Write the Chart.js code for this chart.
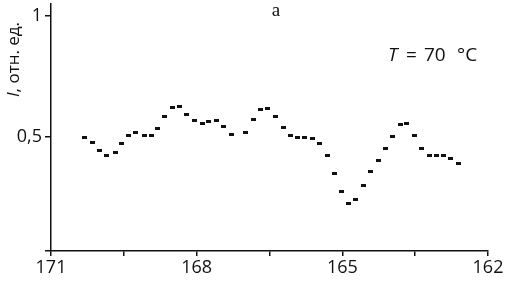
<!DOCTYPE html>
<html>
<head>
<meta charset="utf-8">
<script src="https://cdn.jsdelivr.net/npm/chart.js@4.4.1/dist/chart.umd.min.js"></script>
<style>
  html, body { margin: 0; padding: 0; background: #fff; }
  #wrap { width: 515px; height: 281px; position: relative; }
</style>
</head>
<body>
<div id="wrap"><canvas id="spectrum"></canvas></div>
<script>
// wavenumber-like x values (axis runs 171 -> 162)
var xs = [170.30, 170.15, 170.00, 169.85, 169.68, 169.54, 169.40, 169.25, 169.08, 168.94,
          168.81, 168.66, 168.50, 168.36, 168.20, 168.04, 167.89, 167.75, 167.60, 167.45,
          167.28, 166.99, 166.83, 166.68, 166.54, 166.37, 166.22, 166.07, 165.92, 165.77,
          165.62, 165.46, 165.31, 165.17, 165.01, 164.87, 164.72, 164.57, 164.41, 164.25,
          164.11, 163.96, 163.81, 163.68, 163.52, 163.37, 163.21, 163.07, 162.92, 162.77,
          162.60];
// intensity, rel. units
var intensity = [0.496, 0.477, 0.442, 0.422, 0.433, 0.471, 0.504, 0.516, 0.504, 0.504,
                 0.532, 0.583, 0.620, 0.623, 0.592, 0.566, 0.555, 0.561, 0.565, 0.543,
                 0.509, 0.517, 0.571, 0.610, 0.615, 0.584, 0.538, 0.506, 0.496, 0.495,
                 0.493, 0.471, 0.422, 0.349, 0.272, 0.225, 0.240, 0.298, 0.354, 0.401,
                 0.449, 0.502, 0.548, 0.554, 0.504, 0.452, 0.422, 0.422, 0.422, 0.409,
                 0.390];
var xTicks = [171, 169.5, 168, 166.5, 165, 163.5, 162];
var xLabels = ['171', '', '168', '', '165', '', '162'];
var yTicks = [0.028, 0.5, 1];
var yLabels = ['', '0,5', '1'];

var FONT = '"Open Sans", "Noto Sans", sans-serif';

// small flat black marker
var marker = document.createElement('canvas');
marker.width = 5; marker.height = 3;
var mctx = marker.getContext('2d');
mctx.fillStyle = '#111';
mctx.fillRect(0, 0, 5, 3);

var points = xs.map(function (x, i) { return { x: x, y: intensity[i] }; });

var annotations = {
  id: 'annotations',
  afterDraw: function (chart) {
    var ctx = chart.ctx;
    ctx.save();
    ctx.fillStyle = '#111';
    // panel letter
    ctx.font = '19px "Liberation Serif", serif';
    ctx.textAlign = 'center';
    ctx.textBaseline = 'alphabetic';
    ctx.fillText('a', 276, 16);
    // temperature note
    ctx.textAlign = 'left';
    ctx.font = 'italic 19px ' + FONT;
    ctx.fillText('T', 388, 61);
    ctx.font = '19px ' + FONT;
    ctx.fillText('=', 406, 61);
    ctx.fillText('70', 424, 61);
    ctx.fillText('\u00B0C', 457, 61);
    // y axis title, rotated
    ctx.translate(19, 97);
    ctx.rotate(-Math.PI / 2);
    ctx.font = 'italic 17px ' + FONT;
    ctx.fillText('I', 0, 0);
    var wi = ctx.measureText('I').width;
    ctx.font = '17px ' + FONT;
    ctx.fillText(', отн. ед.', wi, 0);
    ctx.restore();
  }
};

new Chart(document.getElementById('spectrum'), {
  type: 'scatter',
  data: {
    datasets: [{
      data: points,
      pointStyle: marker,
      pointRadius: 3,
      pointHoverRadius: 3,
      showLine: false
    }]
  },
  options: {
    responsive: true,
    maintainAspectRatio: false,
    animation: false,
    events: [],
    layout: { autoPadding: false, padding: { top: 4, right: 27, left: 0, bottom: 0 } },
    plugins: { legend: { display: false }, tooltip: { enabled: false } },
    scales: {
      x: {
        type: 'linear',
        reverse: true,
        min: 162,
        max: 171,
        afterBuildTicks: function (scale) {
          scale.ticks = xTicks.map(function (v) { return { value: v }; });
        },
        afterFit: function (scale) {
          scale.height = 30;
          scale.paddingLeft = 0;
          scale.paddingRight = 0;
        },
        ticks: {
          autoSkip: false,
          maxRotation: 0,
          padding: 1,
          color: '#111',
          font: { family: FONT, size: 18 },
          callback: function (v, i) { return xLabels[i]; }
        },
        grid: { drawOnChartArea: false, tickLength: 5, color: '#111', lineWidth: 1.5 },
        border: { color: '#111', width: 1.5 }
      },
      y: {
        min: 0.028,
        max: 1.047,
        afterBuildTicks: function (scale) {
          scale.ticks = yTicks.map(function (v) { return { value: v }; });
        },
        afterFit: function (scale) {
          scale.width = 51;
          scale.paddingTop = 0;
          scale.paddingBottom = 0;
        },
        ticks: {
          autoSkip: false,
          padding: 3,
          color: '#111',
          font: { family: FONT, size: 18 },
          callback: function (v, i) { return yLabels[i]; }
        },
        grid: { drawOnChartArea: false, tickLength: 6, color: '#111', lineWidth: 1.5 },
        border: { color: '#111', width: 1.5 }
      }
    }
  },
  plugins: [annotations]
});
</script>
</body>
</html>
